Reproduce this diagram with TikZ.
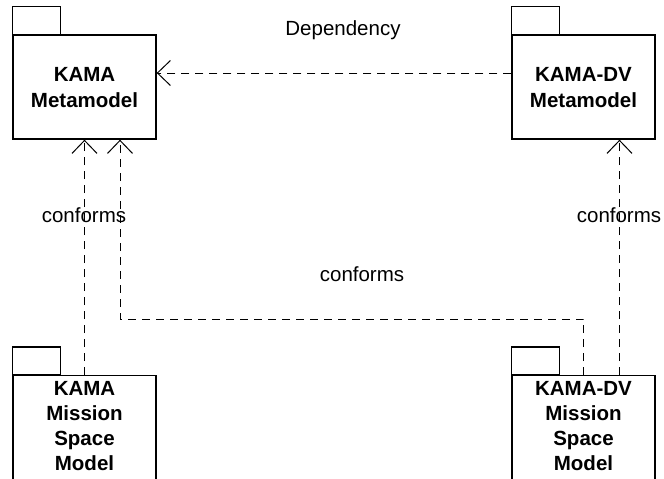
\documentclass[tikz,border=0pt]{standalone}
\usepackage{fontspec}
\setmainfont{Liberation Sans}
\usetikzlibrary{arrows.meta}

\begin{document}
\begin{tikzpicture}[x=1pt,y=-1pt,
  pkg/.style={draw,line width=1.4pt,minimum width=143pt,inner sep=0pt},
  pkgtext/.style={align=center,font=\fontsize{20.5}{25}\selectfont\bfseries,inner sep=0pt},
  pkgtextwide/.style={pkgtext,font=\fontsize{20.5}{26}\selectfont\bfseries},
  tab/.style={draw,line width=1.4pt},
  dep/.style={line width=1pt,dash pattern=on 8pt off 6pt,
    -{Straight Barb[length=13pt,width=25pt,line width=1pt]}},
  lbl/.style={font=\fontsize{20.5}{24}\selectfont,inner sep=0pt}]
  \clip (0,0) rectangle (664,479);
  \fill[white] (0,0) rectangle (664,479);

  % upper packages
  \node[pkg,minimum height=104pt] (kama) at (84.5,87) {};
  \node[pkgtextwide] (kamaT) at ([yshift=-1pt]kama.center) {KAMA\\Metamodel};
  \node[pkg,minimum height=104pt] (dv) at (583.5,87) {};
  \node[pkgtextwide] (dvT) at ([yshift=-1pt]dv.center) {KAMA-DV\\Metamodel};

  % lower packages (run off the lower edge)
  \node[pkg,minimum height=130pt,anchor=north] (kms) at (84.5,375) {};
  \node[pkgtext,anchor=north] (kmsT) at ([yshift=-6pt]kms.north) {KAMA\\Mission\\Space\\Model};
  \node[pkg,minimum height=130pt,anchor=north] (dvms) at (583.5,375) {};
  \node[pkgtext,anchor=north] (dvmsT) at ([yshift=-6pt]dvms.north) {KAMA-DV\\Mission\\Space\\Model};

  % package tabs
  \foreach \p in {kama,dv,kms,dvms}
    \draw[tab] (\p.north west) rectangle ++(48,-28);

  % dependency between the metamodels
  \draw[dep] ([yshift=14pt]dv.west) -- ([yshift=14pt]kama.east);
  \node[lbl] (depL) at (343,30) {Dependency};

  % conformance relations
  \draw[dep] (kms.north) -- (kama.south);
  \draw[dep] ([xshift=36pt]dvms.north) -- ([xshift=36pt]dv.south);
  \coordinate (turn) at (120,319);
  \draw[dep] (dvms.north) |- (turn) -- ([xshift=35.5pt]kama.south);

  \node[lbl] (cL) at (84,215) {conforms};
  \node[lbl] (cR) at (619,215) {conforms};
  \node[lbl] (cM) at (362,274) {conforms};
\end{tikzpicture}
\end{document}
